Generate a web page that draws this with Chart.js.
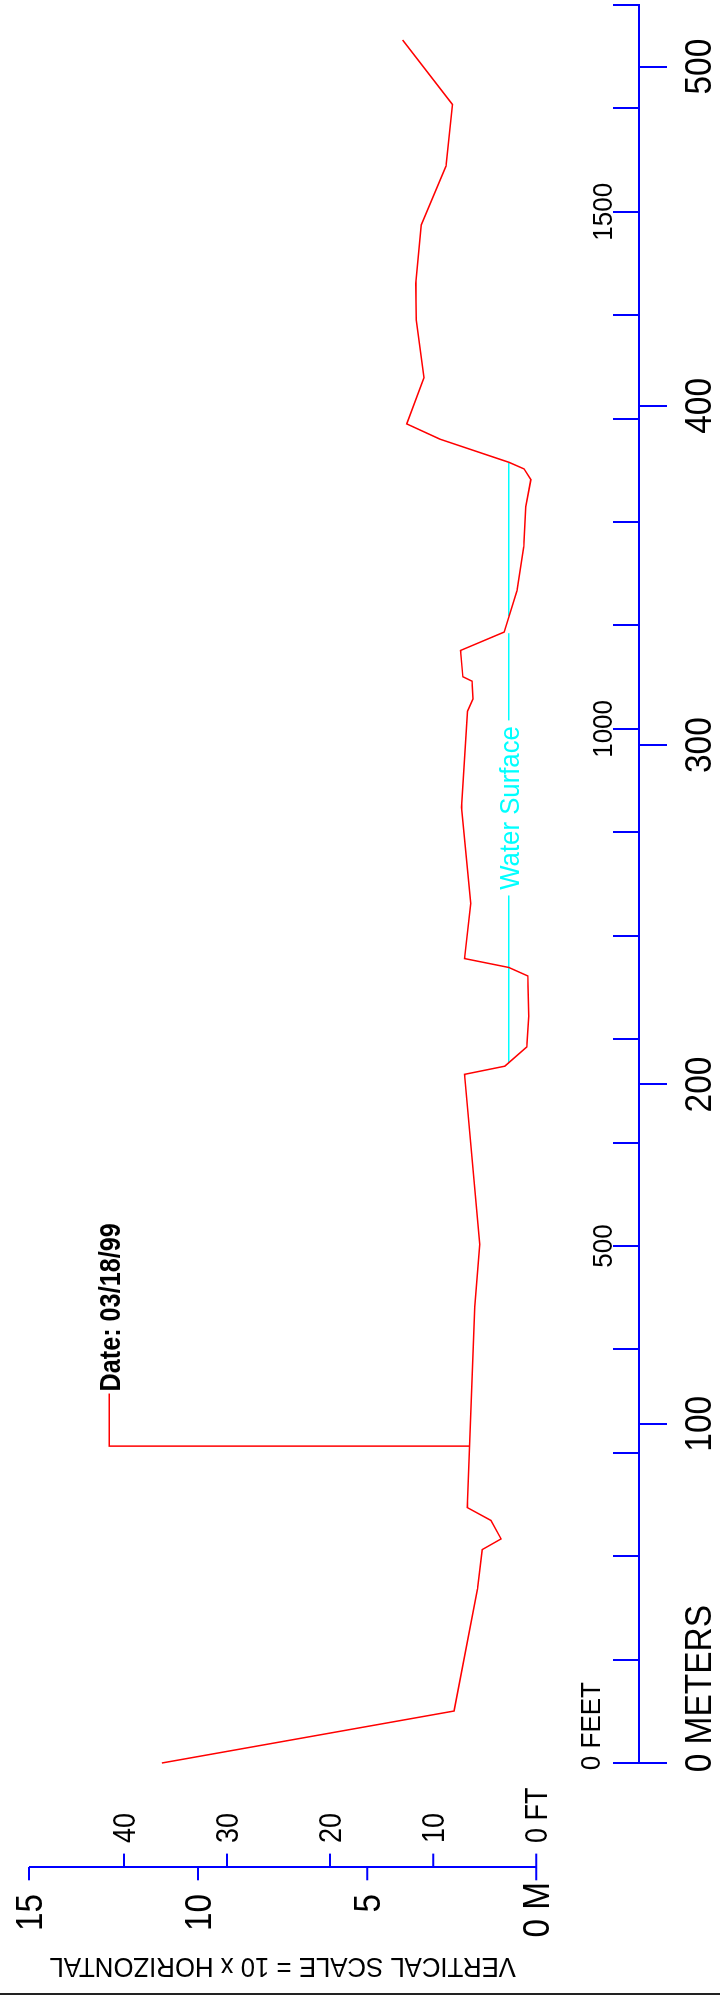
<!DOCTYPE html>
<html>
<head>
<meta charset="utf-8">
<title>Cross Section 03/18/99</title>
<script src="https://cdn.jsdelivr.net/npm/chart.js@4.4.1/dist/chart.umd.min.js"></script>
<style>
  html, body { margin: 0; padding: 0; background: #fff; }
  body { width: 720px; height: 1996px; overflow: hidden; position: relative; }
  /* the section is laid out landscape and turned a quarter turn to fit the sheet */
  #sheet {
    position: absolute; left: 0; top: 0;
    width: 1996px; height: 720px;
    transform-origin: 0 0;
    transform: translate(0px, 1996px) rotate(-90deg);
  }
  canvas { display: block; }
</style>
</head>
<body>
<div id="sheet"><canvas id="section" width="1996" height="720"></canvas></div>
<script>
// Bed profile: station along the section (m) and bed elevation (m above scale zero)
const bedDistance  = [0, 15.33, 51.31, 62.89, 66.05, 71.50, 75.30, 134.45, 152.87, 202.98,
                      205.39, 211.05, 220.10, 231.98, 234.48, 237.10, 253.35, 281.67, 310.02, 313.62,
                      318.86, 320.16, 327.91, 333.33, 345.54, 358.50, 370.29, 378.25, 381.43, 383.38,
                      390.21, 394.70, 408.31, 425.32, 436.11, 453.35, 470.67, 488.86, 507.84];
const bedElevation = [11.07, 2.43, 1.74, 1.60, 1.04, 1.34, 2.04, 1.82, 1.67, 2.12,
                      0.93, 0.28, 0.22, 0.25, 0.81, 2.12, 1.94, 2.21, 2.03, 1.87,
                      1.90, 2.17, 2.24, 0.95, 0.57, 0.37, 0.31, 0.16, 0.36, 0.81,
                      2.85, 3.83, 3.32, 3.55, 3.56, 3.40, 2.67, 2.48, 3.95];

// Water surface line (null = break in the line)
const waterDistance  = [383.38, 338.1, null, 333.0, 307.3, null, 255.7, 206.5];
const waterElevation = [0.81, 0.81, null, 0.81, 0.81, null, 0.81, 0.81];
const waterLabel = 'Water Surface';
const waterLabelDistance = 281.5;

// Survey date callout and its leader
const surveyDate = 'Date: 03/18/99';
const leaderDistance  = [93.4, 93.4, 108.9];
const leaderElevation = [1.97, 12.63, 12.63];

// Horizontal distance axis
const meterTicks  = [0, 100, 200, 300, 400, 500];
const meterLabels = ['0 METERS', '100', '200', '300', '400', '500'];
const feetTicks   = [0, 100, 200, 300, 400, 500, 600, 700, 800, 900,
                     1000, 1100, 1200, 1300, 1400, 1500, 1600, 1700];
const feetLabelValues = [0, 500, 1000, 1500];
const feetLabelText   = ['0 FEET', '500', '1000', '1500'];
const axisMaxFeet = 1700;
const axisMaxMeters = 1700 * 0.3048;

// Vertical scale bar (metres and feet)
const scaleBarMeters     = [0, 5, 10, 15];
const scaleBarMeterText  = ['0 M', '5', '10', '15'];
const scaleBarFeet       = [0, 10, 20, 30, 40];
const scaleBarFeetText   = ['0 FT', '10', '20', '30', '40'];
const scaleBarTitle = 'VERTICAL SCALE = 10 x HORIZONTAL';

// Elevation window of the drawing and where the distance axis sits
const elevMin = -5.434, elevMax = 15.858;
const axisElevation = -3.05;
const feetTickElevation = -2.283;

const FONT = '"Liberation Sans", Arial, Helvetica, sans-serif';
const BLUE = '#0000ff', RED = '#ff0000', CYAN = '#00ffff';

function toPoints(xs, ys) {
  return xs.map((x, i) => ({ x: x, y: ys[i] }));
}

function drawText(ctx, s, x, y, size, align, sx, color, bold) {
  ctx.save();
  ctx.translate(x, y);
  ctx.scale(sx, 1);
  ctx.font = (bold ? 'bold ' : '') + size + 'px ' + FONT;
  ctx.textAlign = align;
  ctx.textBaseline = 'alphabetic';
  ctx.fillStyle = color;
  ctx.fillText(s, 0, 0);
  ctx.restore();
}

function zeroStartX(ctx, px, size, sx, bold) {
  ctx.save();
  ctx.font = (bold ? 'bold ' : '') + size + 'px ' + FONT;
  const w = ctx.measureText('0').width * sx;
  ctx.restore();
  return px - w / 2;
}

const sectionLabels = {
  id: 'sectionLabels',
  afterDraw(chart) {
    const ctx = chart.ctx;
    const xs = chart.scales.x, xf = chart.scales.xFeet, ys = chart.scales.y;
    const area = chart.chartArea;
    const axisV = ys.getPixelForValue(axisElevation);

    // distance labels, metres below the axis
    meterTicks.forEach((m, i) => {
      const px = xs.getPixelForValue(m);
      if (i === 0) {
        drawText(ctx, meterLabels[i], zeroStartX(ctx, px, 36, 0.93), axisV + 72, 36, 'left', 0.93, '#000');
      } else {
        drawText(ctx, meterLabels[i], px, axisV + 72, 36, 'center', 0.93, '#000');
      }
    });
    // distance labels, feet above the axis
    feetLabelValues.forEach((f, i) => {
      const px = xf.getPixelForValue(f);
      if (f === 0) {
        drawText(ctx, feetLabelText[i], zeroStartX(ctx, px, 28, 0.93), axisV - 39, 28, 'left', 0.93, '#000');
      } else {
        drawText(ctx, feetLabelText[i], px, axisV - 27, 28, 'center', 0.93, '#000');
      }
    });

    // vertical scale bar
    const barU = area.left - 104;
    const vTop = ys.getPixelForValue(scaleBarMeters[scaleBarMeters.length - 1]);
    const vZero = ys.getPixelForValue(0);
    ctx.save();
    ctx.strokeStyle = BLUE;
    ctx.lineWidth = 2;
    ctx.beginPath();
    ctx.moveTo(barU, vTop);
    ctx.lineTo(barU, vZero);
    scaleBarMeters.forEach(m => {
      const v = ys.getPixelForValue(m);
      ctx.moveTo(barU, v);
      ctx.lineTo(barU - 13.3, v);
    });
    scaleBarFeet.forEach(f => {
      const v = ys.getPixelForValue(f * 0.3048);
      ctx.moveTo(barU, v);
      ctx.lineTo(barU + 13.4, v);
    });
    ctx.stroke();
    ctx.restore();

    scaleBarMeters.forEach((m, i) => {
      const v = ys.getPixelForValue(m);
      const right = m === 0 ? barU - 15 : barU - 27;
      drawText(ctx, scaleBarMeterText[i], right, v + 13.2, 37, 'right', 0.9, '#000');
    });
    scaleBarFeet.forEach((f, i) => {
      const v = ys.getPixelForValue(f * 0.3048);
      drawText(ctx, scaleBarFeetText[i], barU + 24, v + 11, 31, 'left', 0.87, '#000');
    });

    // scale-bar caption, running up the left edge
    ctx.save();
    ctx.translate(38, (vTop + vZero) / 2);
    ctx.rotate(-Math.PI / 2);
    drawText(ctx, scaleBarTitle, 0, 0, 28, 'center', 0.92, '#000');
    ctx.restore();

    // survey date callout at the end of its leader
    const lx = xs.getPixelForValue(leaderDistance[leaderDistance.length - 1]);
    const lv = ys.getPixelForValue(leaderElevation[leaderElevation.length - 1]);
    drawText(ctx, surveyDate, lx + 2, lv + 10.5, 29, 'left', 0.87, '#000', true);

    // water surface label sits in the break of its line
    const wx = xs.getPixelForValue(waterLabelDistance);
    const wv = ys.getPixelForValue(waterElevation[0]);
    drawText(ctx, waterLabel, wx, wv + 10, 28, 'center', 0.92, CYAN);

    // sheet edge
    ctx.save();
    ctx.fillStyle = '#222';
    ctx.fillRect(1, 0, 2, chart.height);
    ctx.restore();
  }
};

new Chart(document.getElementById('section'), {
  type: 'scatter',
  data: {
    datasets: [
      {
        label: 'Bed',
        data: toPoints(bedDistance, bedElevation),
        showLine: true, borderColor: RED, borderWidth: 1.5,
        pointRadius: 0, tension: 0, clip: false
      },
      {
        label: waterLabel,
        data: toPoints(waterDistance, waterElevation),
        showLine: true, spanGaps: false, borderColor: CYAN, borderWidth: 1.5,
        pointRadius: 0, tension: 0, clip: false
      },
      {
        label: 'Date leader',
        data: toPoints(leaderDistance, leaderElevation),
        showLine: true, borderColor: RED, borderWidth: 1.5,
        pointRadius: 0, tension: 0, clip: false
      }
    ]
  },
  options: {
    responsive: false,
    animation: false,
    devicePixelRatio: 1,
    layout: { autoPadding: false, padding: { left: 233, right: 5, top: 0, bottom: 0 } },
    plugins: { legend: { display: false }, tooltip: { enabled: false } },
    scales: {
      x: {
        type: 'linear',
        min: 0, max: axisMaxMeters,
        position: { y: axisElevation },
        afterBuildTicks: (scale) => { scale.ticks = meterTicks.map(v => ({ value: v })); },
        border: { display: true, color: BLUE, width: 2 },
        grid: { display: true, drawOnChartArea: false, drawTicks: true, tickLength: 27, color: BLUE, lineWidth: 2 },
        ticks: { display: false }
      },
      xFeet: {
        type: 'linear',
        axis: 'x',
        min: 0, max: axisMaxFeet,
        position: { y: feetTickElevation },
        afterBuildTicks: (scale) => { scale.ticks = feetTicks.map(v => ({ value: v })); },
        border: { display: false },
        grid: { display: true, drawOnChartArea: false, drawTicks: true, tickLength: 26, color: BLUE, lineWidth: 2 },
        ticks: { display: false }
      },
      y: {
        type: 'linear',
        display: false,
        min: elevMin, max: elevMax
      }
    }
  },
  plugins: [sectionLabels]
});
</script>
</body>
</html>
